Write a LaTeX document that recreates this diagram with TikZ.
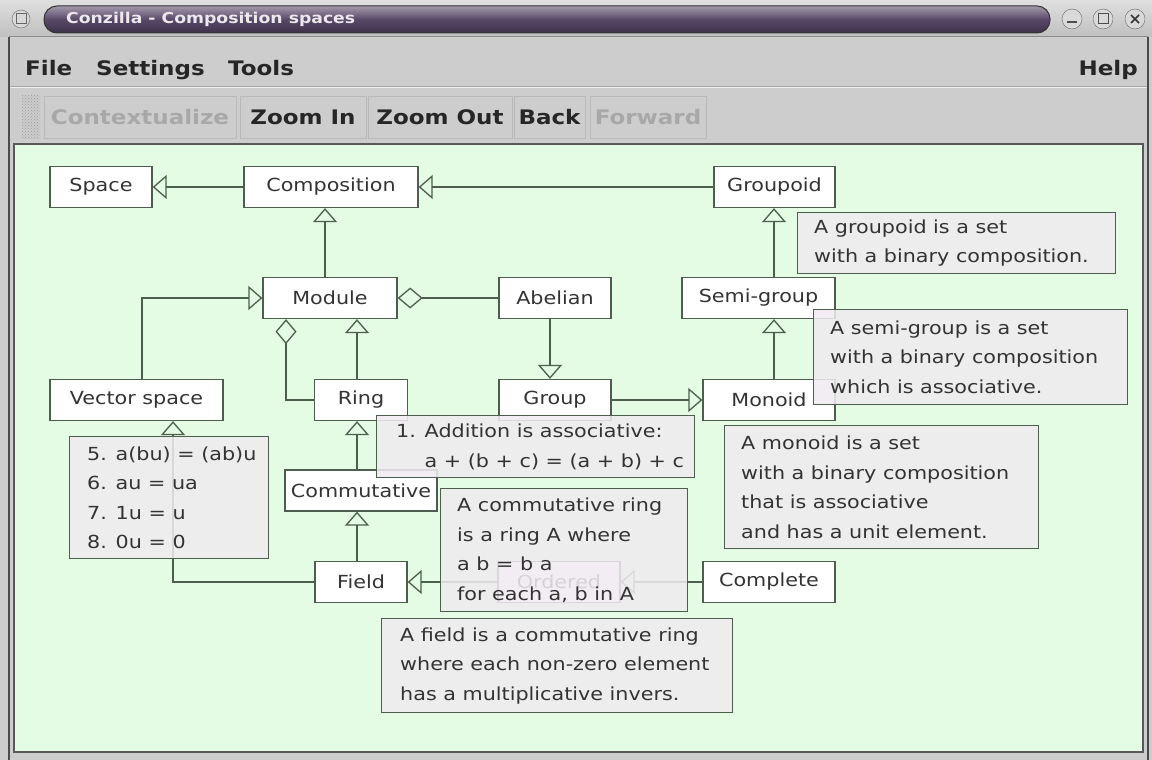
\documentclass[tikz,border=0pt]{standalone}
\usepackage{fontspec}
\setmainfont{DejaVu Sans}[FakeStretch=1.15]
\usetikzlibrary{arrows.meta,patterns}
\definecolor{canvas}{HTML}{E4FBE4}
\definecolor{chrome}{HTML}{CDCDCD}
\definecolor{edgecol}{HTML}{4E5E4E}
\definecolor{notefill}{HTML}{F0EBF0}
\definecolor{titlepurple}{HTML}{584868}
\definecolor{greyed}{HTML}{A8A8A8}

\tikzset{
  concept/.style={draw=edgecol, line width=1.3pt, fill=white, minimum height=41pt, inner sep=0pt, font=\fontsize{18}{22}\selectfont, text=black!80},
  note/.style={draw=edgecol, line width=1.3pt, fill=notefill, fill opacity=0.86, anchor=north west, inner sep=0pt},
  notetext/.style={anchor=west, align=left, inner sep=0pt, font=\fontsize{18}{29.5}\selectfont, text=black!80},
  isa/.style={draw=edgecol, line width=1.3pt, -{Triangle[open, length=14pt, width=24pt]}},
  has/.style={draw=edgecol, line width=1.3pt, -{Diamond[open, length=25pt, width=21pt]}},
  tbutton/.style={draw=gray!55, fill=chrome, minimum height=42pt, inner sep=0pt, font=\bfseries\fontsize{20}{24}\selectfont, text=black!85},
  menuitem/.style={inner sep=0pt, font=\bfseries\fontsize{20}{24}\selectfont, text=black!85},
  winbutton/.style={circle, draw=black!60, fill=gray!30, minimum size=20pt, inner sep=0pt}
}

\begin{document}
\begin{tikzpicture}[x=1pt, y=-1pt]
\useasboundingbox (0,0) rectangle (1152,760);
% window
\shade[top color=gray!25, bottom color=gray!50] (0,0) rectangle (1152,37);
\fill[chrome] (0,37) rectangle (1152,760);
\shade[rounded corners=13pt, top color=titlepurple!55, bottom color=titlepurple!70!black, middle color=titlepurple, draw=black!80, line width=1pt] (44,6) rectangle (1050,33);
\node[anchor=west, inner sep=0pt, font=\bfseries\fontsize{15}{18}\selectfont, text=white!88!titlepurple] (title) at (66,19) {Conzilla - Composition spaces};
\node[winbutton, minimum size=18pt] (sysmenu) at (21,19) {};
\draw[black!60, line width=1pt] (16,14) rectangle (26,24);
\node[winbutton] (minimize) at (1072,19) {};
\draw[black!70, line width=1.5pt] (1067,22) -- (1077,22);
\node[winbutton] (maximize) at (1103,19) {};
\draw[black!70, line width=1pt] (1098,14) rectangle (1108,24);
\node[winbutton] (close) at (1135,19) {};
\draw[black!80, line width=1.6pt] (1131,15) -- (1139,23) (1131,23) -- (1139,15);
\draw[black!70, line width=1.5pt] (9,37) -- (9,760);
\draw[black!70, line width=1.5pt] (1148,37) -- (1148,760);
\draw[black!45, line width=1pt] (9,37) -- (1148,37);
% menu bar
\node[menuitem, anchor=base west] (file) at (25,76) {File};
\node[menuitem, anchor=base west] (settings) at (96,76) {Settings};
\node[menuitem, anchor=base west] (tools) at (228,76) {Tools};
\node[menuitem, anchor=base east] (help) at (1138,76) {Help};
\draw[gray!70] (10,86) -- (1147,86);
\draw[white!70!chrome] (10,87.5) -- (1147,87.5);
% toolbar
\fill[pattern=crosshatch dots, pattern color=gray!80] (22,96) rectangle (40,138);
\node[tbutton, minimum width=192pt, text=greyed] (contextualize) at (140,117) {Contextualize};
\node[tbutton, minimum width=126pt] (zoomin) at (303,117) {Zoom In};
\node[tbutton, minimum width=144pt] (zoomout) at (440,117) {Zoom Out};
\node[tbutton, minimum width=71pt] (back) at (549.5,117) {Back};
\node[tbutton, minimum width=116pt, text=greyed] (forward) at (648,117) {Forward};
% canvas
\filldraw[fill=canvas, draw=black!65, line width=1.5pt] (14,144) rectangle (1143,752);
% concepts
\node[concept, minimum width=102pt] (space) at (101,187) {Space};
\node[concept, minimum width=174pt] (comp) at (331,187) {Composition};
\node[concept, minimum width=121pt] (groupoid) at (774.5,187) {Groupoid};
\node[concept, minimum width=134pt] (module) at (330,298) {Module};
\node[concept, minimum width=112pt] (abelian) at (555,298) {Abelian};
\node[concept, minimum width=153pt] (semigroup) at (758.5,298) {Semi-group};
\node[concept, minimum width=173pt] (vecsp) at (136.5,400) {Vector space};
\node[concept, minimum width=93pt] (ring) at (361,400) {Ring};
\node[concept, minimum width=112pt] (group) at (555,400) {Group};
\node[concept, minimum width=132pt] (monoid) at (769,400) {Monoid};
\node[concept, minimum width=152pt] (commut) at (361,490.5) {Commutative};
\node[concept, minimum width=92pt] (field) at (361,582) {Field};
\node[concept, minimum width=122pt] (ordered) at (559,582) {Ordered};
\node[concept, minimum width=132pt] (complete) at (769,582) {Complete};
% links
\coordinate (mx) at (325,0);
\coordinate (vx) at (142,0);
\coordinate (dx) at (286,0);
\coordinate (rx) at (357,0);
\coordinate (ax) at (550,0);
\coordinate (gx) at (774,0);
\coordinate (fx) at (173,0);
\draw[isa] (comp) -- (space);
\draw[isa] (groupoid) -- (comp);
\draw[isa] (module.north -| mx) -- (comp.south -| mx);
\draw[isa] (vecsp.north -| vx) |- (module.west);
\draw[has] (abelian) -- (module);
\draw[has] (ring.west) -| (module.south -| dx);
\draw[isa] (ring.north -| rx) -- (module.south -| rx);
\draw[isa] (abelian.south -| ax) -- (group.north -| ax);
\draw[isa] (group) -- (monoid);
\draw[isa] (monoid.north -| gx) -- (semigroup.south -| gx);
\draw[isa] (semigroup.north -| gx) -- (groupoid.south -| gx);
\draw[isa] (commut.north -| rx) -- (ring.south -| rx);
\draw[isa] (field.north -| rx) -- (commut.south -| rx);
\draw[isa] (field.west) -| (vecsp.south -| fx);
\draw[isa] (complete) -- (ordered);
\draw[isa] (ordered) -- (field);
% notes
\node[note, minimum width=318pt, minimum height=61pt] (groupoidnote) at (797,212) {};
\node[notetext] at ([xshift=17pt]groupoidnote.west) {A groupoid is a set\\with a binary composition.};
\node[note, minimum width=314pt, minimum height=95pt] (semigroupnote) at (813,309) {};
\node[notetext] at ([xshift=17pt]semigroupnote.west) {A semi-group is a set\\with a binary composition\\which is associative.};
\node[note, minimum width=318pt, minimum height=62pt] (axiomnote) at (376,415) {};
\node[notetext] at ([xshift=20pt]axiomnote.west) {1. Addition is associative:\\\phantom{1. }a + (b + c) = (a + b) + c};
\node[note, minimum width=199pt, minimum height=122pt] (vectornote) at (69,436) {};
\node[notetext] at ([xshift=18pt]vectornote.west) {5. a(bu) = (ab)u\\6. au = ua\\7. 1u = u\\8. 0u = 0};
\node[note, minimum width=314pt, minimum height=123pt] (monoidnote) at (724,425) {};
\node[notetext] at ([xshift=17pt]monoidnote.west) {A monoid is a set\\with a binary composition\\that is associative\\and has a unit element.};
\node[note, minimum width=247pt, minimum height=123pt] (commutnote) at (440,488) {};
\node[notetext] at ([xshift=17pt]commutnote.west) {A commutative ring\\is a ring A where\\a b = b a\\for each a, b in A};
\node[note, minimum width=351pt, minimum height=94pt] (fieldnote) at (381,618) {};
\node[notetext] at ([xshift=19pt]fieldnote.west) {A field is a commutative ring\\where each non-zero element\\has a multiplicative invers.};
\end{tikzpicture}
\end{document}
